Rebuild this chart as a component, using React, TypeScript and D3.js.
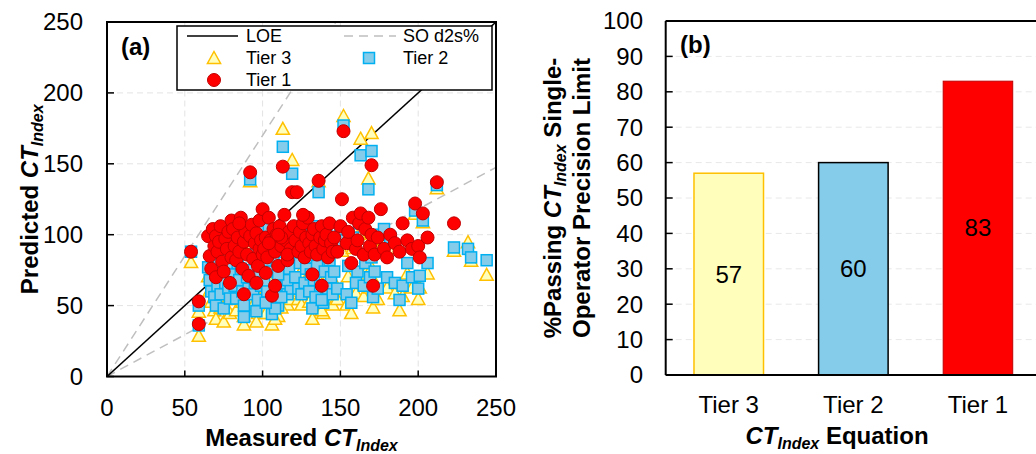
import React from "react";
import * as d3 from "d3";

// ---------- Panel (a) data: measured CT_Index and predictions of each tier ----------
const measured = [54, 59, 59,
  65, 66, 67, 68, 69, 70, 70, 71, 72, 73, 74, 75, 76, 77, 78, 79, 80, 80,
  81, 82, 83, 84, 85, 86, 87, 88, 89, 90, 91, 92, 92, 93, 94, 95, 96, 97, 98, 98, 99, 100, 100, 96, 88, 85,
  101, 102, 103, 104, 105, 106, 107, 108, 109, 110, 111, 112, 113, 114, 115, 116, 117, 118, 119, 120, 104, 108, 112, 116, 102, 110,
  121, 122, 123, 124, 125, 126, 127, 128, 129, 130, 131, 132, 133, 134, 135, 136, 137, 138, 139, 140, 141, 142, 143, 144, 145, 126, 132, 138,
  146, 148, 150, 151, 152, 154, 155, 157, 158, 160, 161, 162, 163, 165, 166, 168, 169, 170, 171, 170,
  172, 174, 176, 178, 180, 182, 185, 188, 190, 193, 196, 198, 200, 201, 203, 206,
  212, 223, 232, 234, 244];
const tier1Pred: (number | null)[] = [88, 37, 53,
  99, 85, 76, 104, 92, 99, 70, 88, 95, 106, 81, 74, 97, 90, 102, 66, 84, 110,
  104, 92, 82, 98, 88, 112, 76, 95, 102, 86, 71, 144, 99, 107, 83, 94, 101, 78, 90, 110, 96, 86, 118, 66, 58, 108,
  90, 98, 84, 112, 96, 57, 104, 88, 100, 78, 106, 92, 148, 114, 96, 82, 102, 90, 130, 106, 94, 64, 98, 86, 73, 100,
  96, 130, 88, 102, 92, 108, 84, 98, 112, 94, 88, 100, 104, 92, 86, 138, 98, 106, 90, 96, 100, 84, 108, 94, 88, 114, 72, 64,
  98, 88, 106, 125, 173, 94, 102, 80, 112, 90, 96, 108, 115, 86, 104, 112, 92, 149, 64, 100,
  86, 98, 118, 90, 84, 100, 94, 88, 108, 96, 90, 122, 92, 84, 115, 98,
  137, 108, null, null, null];
const tier2Pred = [88, 36, 50,
  77, 68, 60, 82, 56, 72, 50, 64, 79, 58, 70, 48, 66, 74, 62, 55, 80, 68,
  72, 64, 55, 80, 68, 76, 60, 50, 98, 70, 62, 139, 75, 100, 58, 66, 90, 54, 74, 96, 64, 78, 105, 46, 42, 88,
  66, 78, 60, 104, 74, 44, 84, 56, 102, 50, 98, 70, 162, 88, 64, 58, 76, 62, 143, 100, 92, 48, 56, 68, 52, 72,
  70, 88, 62, 80, 58, 104, 66, 76, 84, 60, 72, 106, 68, 56, 78, 130, 64, 100, 52, 74, 102, 62, 82, 70, 58, 100, 48, 54,
  74, 62, 104, 96, 177, 58, 78, 52, 98, 66, 74, 108, 156, 64, 80, 132, 70, 159, 56, 84,
  74, 62, 100, 104, 70, 98, 66, 54, 64, 80, 70, 117, 62, 71, 110, 80,
  135, 91, 90, 84, 82];
const tier3Pred = [80, 28, 45,
  70, 60, 52, 74, 46, 64, 40, 56, 70, 48, 62, 38, 58, 66, 54, 44, 72, 60,
  64, 56, 46, 72, 60, 66, 52, 42, 90, 62, 54, 137, 66, 92, 50, 58, 82, 44, 66, 88, 56, 70, 98, 38, 36, 80,
  58, 70, 52, 96, 66, 36, 76, 48, 94, 42, 90, 62, 174, 80, 56, 50, 68, 54, 152, 92, 86, 40, 48, 60, 44, 64,
  62, 80, 54, 72, 50, 96, 58, 68, 76, 52, 64, 98, 60, 48, 70, 137, 56, 92, 44, 66, 94, 54, 74, 62, 50, 92, 40, 46,
  66, 54, 96, 88, 183, 50, 70, 44, 90, 58, 66, 100, 167, 56, 72, 139, 62, 171, 48, 76,
  66, 54, 92, 96, 62, 90, 58, 46, 56, 72, 62, 114, 54, 62, 108, 72,
  132, 88, 94, 81, 71];

// ---------- Panel (b) data ----------
const tierNames = ["Tier 3", "Tier 2", "Tier 1"];
const passingPct = [57, 60, 83];

const xTicksA = [0, 50, 100, 150, 200, 250];
const yTicksA = [0, 50, 100, 150, 200, 250];
const yTicksB = [0, 10, 20, 30, 40, 50, 60, 70, 80, 90, 100];
const soUpper = 1.7;
const soLower = 0.59;

const FONT = "Liberation Sans, Arial, sans-serif";

const triPath = "M0,-7.5L6.6,4.5L-6.6,4.5Z";

export default function App() {
  const xA = d3.scaleLinear().domain([0, 250]).range([107, 496]);
  const yA = d3.scaleLinear().domain([0, 250]).range([376.5, 22]);
  const xB = d3.scaleBand<string>().domain(tierNames).range([665.7, 1041]).paddingInner(0.442).paddingOuter(0.227);
  const yB = d3.scaleLinear().domain([0, 100]).range([375, 21]);

  const lineGen = d3.line<[number, number]>().x((d) => xA(d[0])).y((d) => yA(d[1]));
  const upperEnd = 250 / soUpper;

  const colorsFill = ["#FFFFBB", "#85CBEA", "#FF0000"];
  const colorsStroke = ["#FFC000", "#000000", "#C00000"];

  return (
    <svg width={1036} height={454} style={{ position: "absolute", left: 0, top: 0 }} fontFamily={FONT}>
      <rect x={0} y={0} width={1036} height={454} fill="#fff" />
      <defs>
        <clipPath id="clipA">
          <rect x={xA(0)} y={yA(250)} width={xA(250) - xA(0)} height={yA(0) - yA(250)} />
        </clipPath>
      </defs>
      {xTicksA.slice(1, -1).map((t) => (
        <line key={"gx" + t} x1={xA(t)} x2={xA(t)} y1={yA(0)} y2={yA(250)} stroke="#e3e3e3" strokeDasharray="6,4" strokeWidth={1} />
      ))}
      {yTicksA.slice(1, -1).map((t) => (
        <line key={"gy" + t} x1={xA(0)} x2={xA(250)} y1={yA(t)} y2={yA(t)} stroke="#e3e3e3" strokeDasharray="6,4" strokeWidth={1} />
      ))}
      <g clipPath="url(#clipA)">
        <path d={lineGen([[0, 0], [upperEnd, 250]]) || ""} stroke="#bfbfbf" strokeWidth={1.5} strokeDasharray="9,6" fill="none" />
        <path d={lineGen([[0, 0], [250, 250 * soLower]]) || ""} stroke="#bfbfbf" strokeWidth={1.5} strokeDasharray="9,6" fill="none" />
        <path d={lineGen([[0, 0], [250, 250]]) || ""} stroke="#000" strokeWidth={1.5} fill="none" />
        {measured.map((m, i) => (
          <path key={"t" + i} d={triPath} transform={`translate(${xA(m)},${yA(tier3Pred[i])})`} fill="#FFFFBB" stroke="#FFC000" strokeWidth={1.5} />
        ))}
        {measured.map((m, i) => (
          <rect key={"s" + i} x={xA(m) - 5.5} y={yA(tier2Pred[i]) - 5.5} width={11} height={11} fill="#85CBEA" stroke="#00B0F0" strokeWidth={1.5} />
        ))}
        {measured.map((m, i) =>
          tier1Pred[i] == null ? null : (
            <circle key={"c" + i} cx={xA(m)} cy={yA(tier1Pred[i] as number)} r={6.5} fill="#FF0000" stroke="#C00000" strokeWidth={1} />
          )
        )}
      </g>
      <rect x={xA(0)} y={yA(250)} width={xA(250) - xA(0)} height={yA(0) - yA(250)} fill="none" stroke="#000" strokeWidth={2} />
      {xTicksA.map((t) => (
        <g key={"xt" + t}>
          <line x1={xA(t)} x2={xA(t)} y1={yA(0)} y2={yA(0) - 6} stroke="#000" strokeWidth={1.5} />
          <text x={xA(t)} y={416} textAnchor="middle" fontSize={24} fill="#000">{t}</text>
        </g>
      ))}
      {yTicksA.map((t) => (
        <g key={"yt" + t}>
          <line x1={xA(0)} x2={xA(0) + 7} y1={yA(t)} y2={yA(t)} stroke="#000" strokeWidth={1.5} />
          <text x={83} y={yA(t)} dy="0.35em" textAnchor="end" fontSize={24} fill="#000">{t}</text>
        </g>
      ))}
      <text x={(xA(0) + xA(250)) / 2} y={446} textAnchor="middle" fontSize={24} fontWeight="bold" fill="#000">
        Measured <tspan fontStyle="italic">CT</tspan>
        <tspan fontStyle="italic" fontSize={16} dy={5}>Index</tspan>
      </text>
      <text transform={`translate(38,${(yA(0) + yA(250)) / 2}) rotate(-90)`} textAnchor="middle" fontSize={24} fontWeight="bold" fill="#000">
        Predicted <tspan fontStyle="italic">CT</tspan>
        <tspan fontStyle="italic" fontSize={16} dy={5}>Index</tspan>
      </text>
      <text x={121} y={55} fontSize={24} fontWeight="bold" fill="#000">(a)</text>
      <rect x={177} y={26} width={315} height={64} fill="#fff" stroke="#000" strokeWidth={1.5} />
      <line x1={187} x2={238} y1={36} y2={36} stroke="#000" strokeWidth={1.5} />
      <text x={246} y={36} dy="0.35em" fontSize={18} fill="#000">LOE</text>
      <line x1={344} x2={396} y1={36} y2={36} stroke="#bfbfbf" strokeWidth={1.5} strokeDasharray="9,6" />
      <text x={403} y={36} dy="0.35em" fontSize={18} fill="#000">SO d2s%</text>
      <path d={triPath} transform="translate(214,59)" fill="#FFFFBB" stroke="#FFC000" strokeWidth={1.5} />
      <text x={246} y={58} dy="0.35em" fontSize={18} fill="#000">Tier 3</text>
      <rect x={363.5} y={52.5} width={11} height={11} fill="#85CBEA" stroke="#00B0F0" strokeWidth={1.5} />
      <text x={403} y={58} dy="0.35em" fontSize={18} fill="#000">Tier 2</text>
      <circle cx={214} cy={80} r={6.5} fill="#FF0000" stroke="#C00000" strokeWidth={1} />
      <text x={246} y={80} dy="0.35em" fontSize={18} fill="#000">Tier 1</text>

      {yTicksB.slice(1, -1).map((t) => (
        <line key={"gb" + t} x1={665.7} x2={1036} y1={yB(t)} y2={yB(t)} stroke="#e8e8e8" strokeDasharray="6,4" strokeWidth={1} />
      ))}
      {tierNames.map((n, i) => (
        <g key={"bar" + n}>
          <rect x={xB(n)} y={yB(passingPct[i])} width={xB.bandwidth()} height={yB(0) - yB(passingPct[i])}
            fill={colorsFill[i]} stroke={i === 0 ? "#FFC000" : colorsStroke[i]} strokeWidth={i === 2 ? 1 : 1.5} />
          <text x={(xB(n) as number) + xB.bandwidth() / 2} y={(yB(0) + yB(passingPct[i])) / 2} dy="0.35em" textAnchor="middle" fontSize={24} fill="#000">
            {passingPct[i]}
          </text>
          <text x={(xB(n) as number) + xB.bandwidth() / 2} y={413} textAnchor="middle" fontSize={24} fill="#000">{n}</text>
        </g>
      ))}
      <line x1={665.7} x2={1036} y1={yB(0)} y2={yB(0)} stroke="#000" strokeWidth={2} />
      <line x1={665.7} x2={1036} y1={yB(100)} y2={yB(100)} stroke="#000" strokeWidth={2} />
      <line x1={665.7} x2={665.7} y1={yB(0)} y2={yB(100)} stroke="#000" strokeWidth={2} />
      {yTicksB.map((t) => (
        <g key={"ybt" + t}>
          <line x1={665.7} x2={672.7} y1={yB(t)} y2={yB(t)} stroke="#000" strokeWidth={1.5} />
          <text x={643} y={yB(t)} dy="0.35em" textAnchor="end" fontSize={24} fill="#000">{t}</text>
        </g>
      ))}
      <text x={680} y={53} fontSize={24} fontWeight="bold" fill="#000">(b)</text>
      <text x={837} y={444} textAnchor="middle" fontSize={24} fontWeight="bold" fill="#000">
        <tspan fontStyle="italic">CT</tspan>
        <tspan fontStyle="italic" fontSize={16} dy={5}>Index</tspan>
        <tspan dy={-5}> Equation</tspan>
      </text>
      <text transform={`translate(561,198) rotate(-90)`} textAnchor="middle" fontSize={24} fontWeight="bold" fill="#000">
        %Passing <tspan fontStyle="italic">CT</tspan>
        <tspan fontStyle="italic" fontSize={16} dy={5}>Index</tspan>
        <tspan dy={-5}> Single-</tspan>
      </text>
      <text transform={`translate(590,198) rotate(-90)`} textAnchor="middle" fontSize={24} fontWeight="bold" fill="#000">
        Operator Precision Limit
      </text>
    </svg>
  );
}
